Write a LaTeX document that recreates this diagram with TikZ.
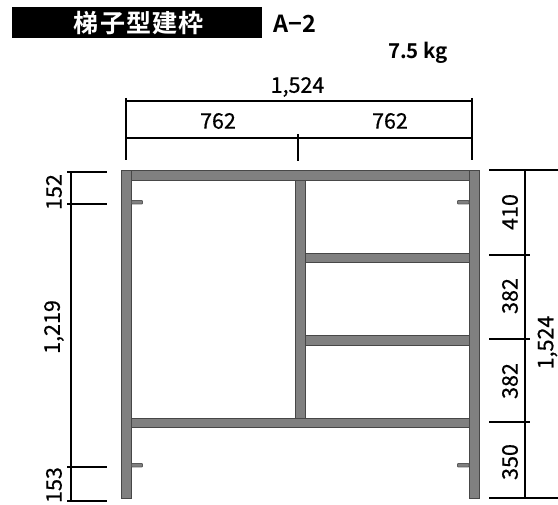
\documentclass[tikz,border=0pt]{standalone}
\usepackage{fontspec}
\setmainfont{Noto Sans CJK JP}[FakeBold=0.6]
\newfontfamily\titlefont[LetterSpace=5]{Noto Sans CJK JP Bold}
\newfontfamily\boldjp{Noto Sans CJK JP Bold}
\tikzset{
  x=1pt,y=-1pt,
  dimline/.style={draw=black,line width=1.8pt},
  steel/.style={fill=black!50,draw=black!72,line width=0.9pt},
  pin/.style={fill=black!50,draw=black!65,line width=0.8pt,rounded corners=0.8pt},
  dimtext/.style={font=\fontsize{21.5}{21.5}\selectfont,inner sep=0pt,text=black},
  vdim/.style={dimtext,rotate=90},
}
\begin{document}
\begin{tikzpicture}
\useasboundingbox (0,0) rectangle (558,505);
% title
\fill[black] (12,7) rectangle (262,38);
\node[text=white,inner sep=0pt,font=\titlefont\fontsize{25}{25}\selectfont] (title) at (139,23) {梯子型建枠};
\node[inner sep=0pt,font=\boldjp\fontsize{23.5}{23.5}\selectfont] (model) at (295,24) {A−2};
\node[inner sep=0pt,font=\boldjp\fontsize{20.5}{20.5}\selectfont] (mass) at (418,53) {7.5 kg};
% top dimensions
\draw[dimline] (126,98) -- (126,160);
\draw[dimline] (472,98) -- (472,160);
\draw[dimline] (298,134) -- (298,161);
\draw[dimline] (126,101) -- (472,101);
\draw[dimline] (126,138) -- (472,138);
\node[dimtext] (w) at (297.5,87) {1,524};
\node[dimtext] (wa) at (218,121) {762};
\node[dimtext] (wb) at (390,121) {762};
% left dimensions
\draw[dimline] (71,171.5) -- (71,501);
\foreach \yy in {172,204,467,501} \draw[dimline] (67,\yy) -- (107,\yy);
\node[vdim] (la) at (54,192) {152};
\node[vdim] (lb) at (54,327) {1,219};
\node[vdim] (lc) at (54,485) {153};
% right dimensions
\draw[dimline] (525,170) -- (525,498);
\draw[dimline] (489,170) -- (558,170);
\draw[dimline] (489,498) -- (558,498);
\foreach \yy in {255,339,422} \draw[dimline] (489,\yy) -- (530,\yy);
\node[vdim] (ra) at (510,212) {410};
\node[vdim] (rb) at (510,296) {382};
\node[vdim] (rc) at (510,381) {382};
\node[vdim] (rd) at (510,462) {350};
\node[vdim] (re) at (547.5,342.5) {1,524};
% frame
\draw[steel] (131.5,170) rectangle (469,180);
\draw[steel] (295,180) rectangle (305.5,418.5);
\draw[steel] (305.5,253.5) rectangle (469,262);
\draw[steel] (305.5,335.5) rectangle (469,345);
\draw[steel] (131.5,418.5) rectangle (469,427.5);
\draw[steel] (121,170) rectangle (131.5,498);
\draw[steel] (469,170) rectangle (479.5,498);
% pins
\draw[pin] (131.5,200.5) rectangle (142.5,204);
\draw[pin] (131.5,463.5) rectangle (142.5,467);
\draw[pin] (457.5,200.5) rectangle (469,204);
\draw[pin] (457.5,463.5) rectangle (469,467);
\end{tikzpicture}
\end{document}
